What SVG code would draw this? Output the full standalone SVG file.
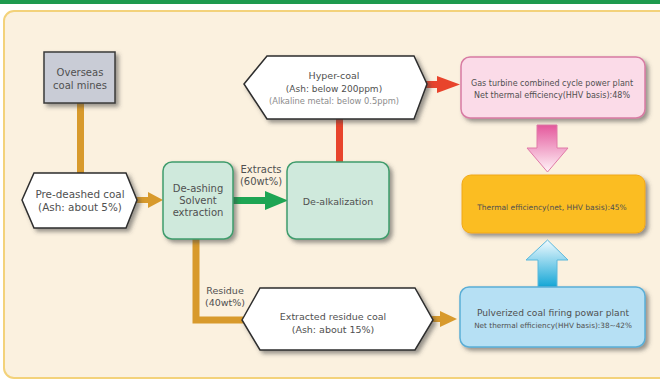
<svg xmlns="http://www.w3.org/2000/svg" width="660" height="381" viewBox="0 0 660 381">
<defs>
<style>
text{font-family:"DejaVu Sans","Liberation Sans",sans-serif;fill:#505050;text-anchor:middle}
.hex{fill:#ffffff;stroke:#2e2e2e;stroke-width:1.5}
.grn{fill:#cfe9dc;stroke:#3f9c6c;stroke-width:1.5}
.org{fill:#d89a2c}
.red{fill:#e8442c}
.gar{fill:#1ea553}
.lt{fill:#8c8c8c}
</style>
<filter id="sh" x="-20%" y="-20%" width="140%" height="150%">
<feDropShadow dx="3" dy="3" stdDeviation="2" flood-color="#444" flood-opacity="0.55"/>
</filter>
<linearGradient id="pk" x1="0" y1="0" x2="0" y2="1">
<stop offset="0" stop-color="#e4589c"/>
<stop offset="1" stop-color="#fff4f8"/>
</linearGradient>
<linearGradient id="bl" x1="0" y1="1" x2="0" y2="0">
<stop offset="0" stop-color="#14a6d6"/>
<stop offset="1" stop-color="#f2fbff"/>
</linearGradient>
</defs>
<rect x="0" y="0" width="660" height="381" fill="#ffffff"/>
<rect x="0" y="0" width="660" height="4" fill="#1e9a4e"/>
<rect x="4" y="11" width="670" height="367" rx="10" fill="#fbf1df" stroke="#f3d27a" stroke-width="2"/>

<g id="connectors">
<rect class="org" x="77" y="103" width="7" height="72"/>
<rect class="org" x="136" y="197" width="14" height="6"/>
<polygon class="org" points="148,192 163,200 148,208"/>
<rect class="gar" x="233" y="197" width="34" height="7"/>
<polygon class="gar" points="265,191 288,200.5 265,210"/>
<rect class="red" x="336" y="118" width="7" height="45"/>
<rect class="red" x="425" y="81" width="15" height="7"/>
<polygon class="red" points="437,76 460,84.5 437,93"/>
<path d="M196,239 V320 H243" fill="none" stroke="#d89a2c" stroke-width="7"/>
<rect class="org" x="432" y="316" width="10" height="6"/>
<polygon class="org" points="440,311 457,319 440,327"/>
<polygon points="537,125 557,125 557,148 568,148 547.5,172 527,148 537,148" fill="url(#pk)" stroke="#e07aa8" stroke-width="1"/>
<polygon points="538,287 557,287 557,260 568,260 547.5,240 526,260 538,260" fill="url(#bl)" stroke="#5ab8dc" stroke-width="1"/>
<text x="261" y="173" font-size="10">Extracts</text>
<text x="261" y="185" font-size="10">(60wt%)</text>
<text x="225" y="294" font-size="9.5">Residue</text>
<text x="225" y="306" font-size="9.5">(40wt%)</text>
</g>

<g id="overseas">
<rect x="44" y="52" width="71" height="51" fill="#c9ccd6" stroke="#3a3a3a" stroke-width="1.5" filter="url(#sh)"/>
<text x="80" y="76" font-size="10">Overseas</text>
<text x="80" y="89" font-size="10">coal mines</text>
</g>

<g id="predeashed">
<polygon class="hex" points="22,200 34,173 126,173 137,200 126,228 34,228" filter="url(#sh)"/>
<text x="80" y="198" font-size="10.4">Pre-deashed coal</text>
<text x="80" y="211" font-size="10.4">(Ash: about 5%)</text>
</g>

<g id="deashing">
<rect class="grn" x="163" y="162" width="70" height="77" rx="9" filter="url(#sh)"/>
<text x="198" y="192" font-size="10">De-ashing</text>
<text x="198" y="204" font-size="10">Solvent</text>
<text x="198" y="216" font-size="10">extraction</text>
</g>

<g id="dealkalization">
<rect class="grn" x="287" y="162" width="102" height="77" rx="9" filter="url(#sh)"/>
<text x="338" y="205" font-size="9.5">De-alkalization</text>
</g>

<g id="hypercoal">
<polygon class="hex" points="244,84 267,56 414,56 427,84 414,119 267,119" filter="url(#sh)"/>
<text x="334" y="79" font-size="9.5">Hyper-coal</text>
<text x="334" y="92" font-size="9">(Ash: below 200ppm)</text>
<text class="lt" x="334" y="104" font-size="8.3">(Alkaline metal: below 0.5ppm)</text>
</g>

<g id="gasturbine">
<rect x="461" y="57" width="184" height="61" rx="9" fill="#fbdbe8" stroke="#d77ba3" stroke-width="1.5" filter="url(#sh)"/>
<text x="552" y="86" font-size="8" fill="#333">Gas turbine combined cycle power plant</text>
<text x="552" y="98" font-size="8" fill="#333">Net thermal efficiency(HHV basis):48%</text>
</g>

<g id="thermal">
<rect x="462" y="175" width="183" height="58" rx="9" fill="#fbbd22" stroke="#f0a818" stroke-width="1" filter="url(#sh)"/>
<text x="552" y="210" font-size="7.5" fill="#333">Thermal efficiency(net, HHV basis):45%</text>
</g>

<g id="pulverized">
<rect x="460" y="287" width="185" height="60" rx="9" fill="#b6e0f4" stroke="#5aaed6" stroke-width="1.5" filter="url(#sh)"/>
<text x="553" y="316" font-size="9.1" fill="#222">Pulverized coal firing powar plant</text>
<text x="553" y="328" font-size="7.3" fill="#222">Net thermal efficiency(HHV basis):38~42%</text>
</g>

<g id="residuecoal">
<polygon class="hex" points="242,320 260,288 415,288 433,320 415,350 260,350" filter="url(#sh)"/>
<text x="333" y="320" font-size="9.5">Extracted residue coal</text>
<text x="333" y="333" font-size="9.5">(Ash: about 15%)</text>
</g>
</svg>
